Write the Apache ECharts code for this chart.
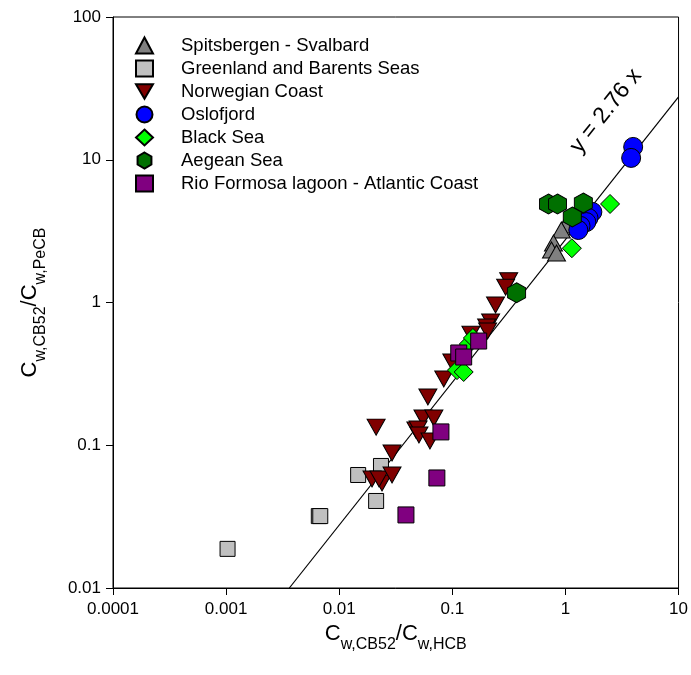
<!DOCTYPE html>
<html><head><meta charset="utf-8">
<script src="https://cdn.jsdelivr.net/npm/echarts@6/dist/echarts.min.js"></script>
<style>html,body{margin:0;padding:0;background:#fff}#c{width:691px;height:675px}</style>
</head><body><div id="c"></div>
<script>
// ---- data ----
const spitsbergen = [[1.0,3.49],[0.92,3.22],[0.784,2.61],[0.753,2.33],[0.834,2.22]];
const greenland = [[0.00103,0.0188],[0.0066,0.0319],[0.0068,0.0319],[0.0147,0.0619],[0.0234,0.0716],[0.0212,0.0407]];
const norwegian = [[0.315,1.42],[0.296,1.28],[0.241,0.96],[0.218,0.73],[0.201,0.673],[0.205,0.631],[0.146,0.60],
  [0.099,0.383],[0.084,0.291],[0.0608,0.218],[0.055,0.155],[0.0687,0.155],[0.0476,0.128],[0.0498,0.130],
  [0.0507,0.118],[0.0634,0.107],[0.0212,0.134],[0.0293,0.0883],[0.0195,0.058],[0.0239,0.0544],[0.0225,0.058],[0.0293,0.0619]];
const oslofjord = [[3.97,12.3],[3.81,10.3],[1.73,4.31],[1.60,3.91],[1.53,3.66],[1.36,3.44],[1.30,3.22]];
const blackSea = [[2.48,4.9],[1.14,2.40],[0.110,0.336],[0.126,0.326],[0.14,0.512],[0.152,0.564]];
const aegean = [[0.708,4.90],[0.851,4.90],[1.44,4.98],[1.15,3.97],[0.37,1.17]];
const rioFormosa = [[0.114,0.443],[0.126,0.415],[0.171,0.537],[0.0793,0.124],[0.073,0.059],[0.0389,0.0325]];
const slope = 2.76;
const fitX = [0.01/2.76, 10];
const xTicks = ['0.0001','0.001','0.01','0.1','1','10'];
const yTicks = ['0.01','0.1','1','10','100'];

const FONT = '"Liberation Sans", Arial, sans-serif';
const invTri = 'path://M0,0 L10,0 L5,8.66 Z';
const hexagon = 'path://M5,0 L9.33,2.5 L9.33,7.5 L5,10 L0.67,7.5 L0.67,2.5 Z';

function sc(name, data, symbol, color, size){
  return {name, type:'scatter', data, symbol, symbolSize:size,
    itemStyle:{color, borderColor:'#000', borderWidth:1, opacity:1}, z:3};
}

const chart = echarts.init(document.getElementById('c'), null, {renderer:'canvas'});
const subRich = {
  b:{fontSize:22, fontFamily:FONT, color:'#000'},
  s:{fontSize:16, fontFamily:FONT, color:'#000', verticalAlign:'bottom', padding:[0,0,-8,0]}
};
chart.setOption({
  animation:false,
  grid:{left:113, top:17, right:10, bottom:87, containLabel:false, show:true, borderColor:'#000', borderWidth:1},
  legend:{
    orient:'vertical', left:130, top:31, itemWidth:17, itemHeight:16, itemGap:4,
    textStyle:{fontSize:18.5, fontFamily:FONT, color:'#000', padding:[0,0,0,23]},
    data:['Spitsbergen - Svalbard','Greenland and Barents Seas','Norwegian Coast','Oslofjord','Black Sea','Aegean Sea','Rio Formosa lagoon - Atlantic Coast']
  },
  xAxis:{
    type:'log', min:0.0001, max:10, logBase:10,
    axisLine:{lineStyle:{color:'#000'}},
    axisTick:{show:true, length:7, lineStyle:{color:'#000'}},
    splitLine:{show:false}, minorTick:{show:false},
    axisLabel:{fontSize:17, fontFamily:FONT, color:'#000', margin:13,
      formatter:v=>{const e=Math.round(Math.log10(v)); return xTicks[e+4];}},
    name:'{b|C}{s|w,CB52}{b|/C}{s|w,HCB}', nameLocation:'middle', nameGap:35,
    nameTextStyle:{rich:subRich}
  },
  yAxis:{
    type:'log', min:0.01, max:100, logBase:10,
    axisLine:{lineStyle:{color:'#000'}},
    axisTick:{show:true, length:7, lineStyle:{color:'#000'}},
    splitLine:{show:false},
    axisLabel:{fontSize:17, fontFamily:FONT, color:'#000', margin:12,
      formatter:v=>{const e=Math.round(Math.log10(v)); return yTicks[e+2];}},
    name:'{b|C}{s|w,CB52}{b|/C}{s|w,PeCB}', nameLocation:'middle', nameGap:72, nameRotate:90,
    nameTextStyle:{rich:subRich}
  },
  series:[
    {name:'fit', type:'line', data:fitX.map(x=>[x, slope*x]), symbol:'none', clip:true,
     lineStyle:{color:'#000', width:1.2}, z:2, silent:true},
    sc('Spitsbergen - Svalbard', spitsbergen, 'triangle', '#808080', [18,16]),
    sc('Greenland and Barents Seas', greenland, 'rect', '#c0c0c0', 15),
    sc('Norwegian Coast', norwegian, invTri, '#800000', [18,16]),
    sc('Oslofjord', oslofjord, 'circle', '#0000ff', 19),
    sc('Black Sea', blackSea, 'diamond', '#00ff00', 19),
    sc('Aegean Sea', aegean, hexagon, '#007000', [18,20]),
    sc('Rio Formosa lagoon - Atlantic Coast', rioFormosa, 'rect', '#800080', 16)
  ],
  graphic:[
    {type:'text', x:606, y:111, rotation:51.5*Math.PI/180,
     style:{text:'y = 2.76 x', font:'23px '+FONT, fill:'#000', textAlign:'center', textVerticalAlign:'middle'}}
  ]
});
</script></body></html>
